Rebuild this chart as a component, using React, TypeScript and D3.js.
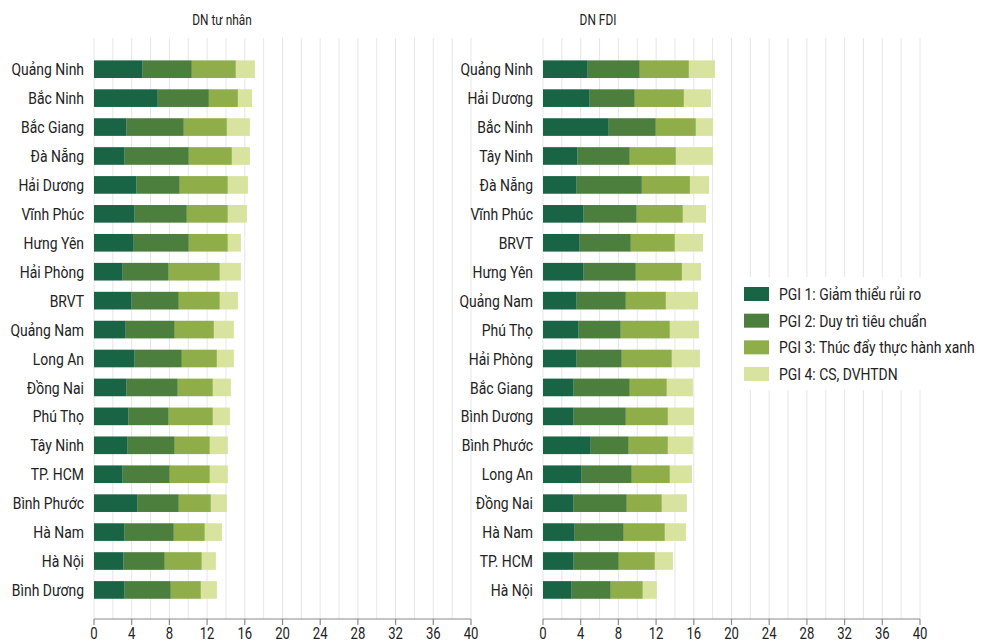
import React from "react";
import * as d3 from "d3";

const seriesNames = [
  "PGI 1: Giảm thiểu rủi ro",
  "PGI 2: Duy trì tiêu chuẩn",
  "PGI 3: Thúc đẩy thực hành xanh",
  "PGI 4: CS, DVHTDN",
];
const seriesColors = ["#1a6446", "#4c7f3d", "#8fae4a", "#d8e39f"];

const leftTitle = "DN tư nhân";
const leftCats = ["Quảng Ninh", "Bắc Ninh", "Bắc Giang", "Đà Nẵng", "Hải Dương", "Vĩnh Phúc", "Hưng Yên", "Hải Phòng", "BRVT", "Quảng Nam", "Long An", "Đồng Nai", "Phú Thọ", "Tây Ninh", "TP. HCM", "Bình Phước", "Hà Nam", "Hà Nội", "Bình Dương"];
const leftP1 = [5.17, 6.77, 3.47, 3.26, 4.53, 4.32, 4.22, 3.05, 4.0, 3.37, 4.32, 3.47, 3.68, 3.58, 3.05, 4.64, 3.26, 3.15, 3.26];
const leftP2 = [5.21, 5.42, 6.06, 6.8, 4.57, 5.53, 5.84, 4.88, 5.0, 5.2, 5.0, 5.42, 4.25, 4.99, 4.99, 4.36, 5.21, 4.36, 4.89];
const leftP3 = [4.67, 3.08, 4.57, 4.57, 5.1, 4.35, 4.14, 5.42, 4.35, 4.15, 3.72, 3.72, 4.68, 3.72, 4.25, 3.4, 3.29, 3.93, 3.19];
const leftP4 = [2.02, 1.49, 2.44, 1.91, 2.13, 2.02, 1.39, 2.24, 1.92, 2.12, 1.8, 1.91, 1.81, 1.91, 1.91, 1.7, 1.81, 1.49, 1.7];

const rightTitle = "DN FDI";
const rightCats = ["Quảng Ninh", "Hải Dương", "Bắc Ninh", "Tây Ninh", "Đà Nẵng", "Vĩnh Phúc", "BRVT", "Hưng Yên", "Quảng Nam", "Phú Thọ", "Hải Phòng", "Bắc Giang", "Bình Dương", "Bình Phước", "Long An", "Đồng Nai", "Hà Nam", "TP. HCM", "Hà Nội"];
const rightP1 = [4.75, 4.96, 6.98, 3.68, 3.58, 4.32, 3.9, 4.32, 3.58, 3.79, 3.58, 3.26, 3.26, 5.07, 4.11, 3.26, 3.37, 3.26, 3.05];
const rightP2 = [5.52, 4.78, 4.99, 5.53, 6.91, 5.63, 5.42, 5.53, 5.21, 4.46, 4.78, 5.95, 5.53, 4.03, 5.31, 5.63, 5.2, 4.78, 4.14];
const rightP3 = [5.21, 5.21, 4.25, 4.89, 5.1, 4.89, 4.67, 4.89, 4.25, 5.21, 5.31, 3.93, 4.46, 4.15, 4.04, 3.72, 4.36, 3.83, 3.4];
const rightP4 = [2.76, 2.87, 1.81, 3.93, 2.02, 2.45, 2.98, 2.02, 3.4, 3.08, 2.98, 2.76, 2.76, 2.65, 2.34, 2.66, 2.23, 1.91, 1.49];

const xTicks = [0, 4, 8, 12, 16, 20, 24, 28, 32, 36, 40];
const gridTicks = d3.range(0, 41, 2);

const FONT = "Roboto, 'Noto Sans', sans-serif";
const SX = 0.82;
const W = 987;
const H = 644;

function T({ x, y, anchor = "start", size, dy = "0", children }: any) {
  return (
    <text
      transform={`translate(${x},${y}) scale(${SX},1)`}
      textAnchor={anchor}
      dy={dy}
      fontSize={size}
      fill="#222"
      fontFamily={FONT}
    >
      {children}
    </text>
  );
}

type PanelProps = {
  title: string;
  titleX: number;
  cats: string[];
  vals: number[][];
  x0: number;
};

function Panel({ title, titleX, cats, vals, x0 }: PanelProps) {
  const x = d3.scaleLinear().domain([0, 40]).range([x0, x0 + 377]);
  const y = d3
    .scaleBand<string>()
    .domain(cats)
    .range([69.2 - 14.47, 69.2 + 18 * 28.93 + 14.47])
    .paddingInner(0.39)
    .paddingOuter(0.195);
  const rows = cats.map((c, i) => {
    const r: any = { cat: c };
    seriesNames.forEach((s, k) => (r[s] = vals[k][i]));
    return r;
  });
  const stacked = d3.stack<any>().keys(seriesNames)(rows);
  const axisY = 619;
  return (
    <g>
      <T x={titleX} y={25} anchor="middle" size={14.5}>
        {title}
      </T>
      {gridTicks.map((t) => (
        <line key={"g" + t} x1={x(t)} x2={x(t)} y1={38} y2={axisY} stroke="#e6e6e6" strokeWidth={1} />
      ))}
      {stacked.map((layer, k) => (
        <g key={layer.key} fill={seriesColors[k]}>
          {layer.map((d: any, i: number) => (
            <rect
              key={i}
              x={x(d[0])}
              y={y(d.data.cat)}
              width={x(d[1]) - x(d[0])}
              height={y.bandwidth()}
            />
          ))}
        </g>
      ))}
      {cats.map((c) => (
        <T key={c} x={x0 - 10} y={(y(c) as number) + y.bandwidth() / 2} dy="0.36em" anchor="end" size={17}>
          {c}
        </T>
      ))}
      <line x1={x(0)} x2={x(40)} y1={axisY} y2={axisY} stroke="#8a8a8a" strokeWidth={1.2} />
      {xTicks.map((t) => (
        <g key={"t" + t}>
          <line x1={x(t)} x2={x(t)} y1={axisY} y2={axisY + 6} stroke="#8a8a8a" strokeWidth={1.2} />
          <T x={x(t)} y={639} anchor="middle" size={16}>
            {t}
          </T>
        </g>
      ))}
    </g>
  );
}

export default function App() {
  return (
    <svg width={W} height={H} style={{ position: "absolute", left: 0, top: 0, background: "#fff" }}>
      <rect x={0} y={0} width={W} height={H} fill="#fff" />
      <Panel title={leftTitle} titleX={222} cats={leftCats} vals={[leftP1, leftP2, leftP3, leftP4]} x0={94} />
      <Panel title={rightTitle} titleX={598} cats={rightCats} vals={[rightP1, rightP2, rightP3, rightP4]} x0={543} />
      <rect x={736} y={277} width={251} height={113} fill="#fff" />
      {seriesNames.map((s, k) => (
        <g key={s}>
          <rect x={744} y={287 + k * 26.67} width={25} height={14} fill={seriesColors[k]} />
          <T x={779} y={287 + k * 26.67 + 7} dy="0.36em" size={17}>
            {s}
          </T>
        </g>
      ))}
    </svg>
  );
}
